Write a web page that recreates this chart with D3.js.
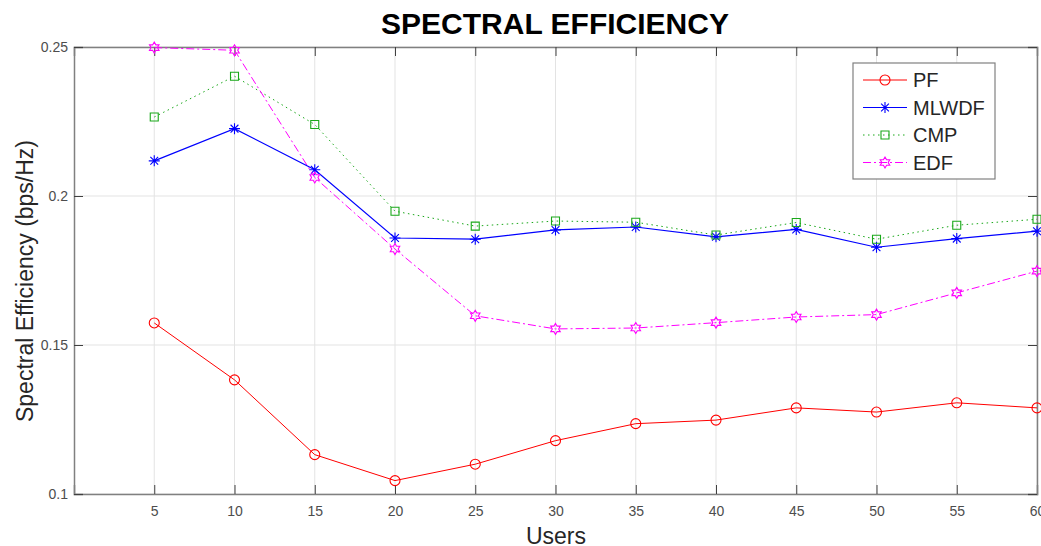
<!DOCTYPE html>
<meta charset="utf-8">
<script src="https://d3js.org/d3.v7.min.js"></script>
<style>
  body { margin: 0; background: #fff; }
  text { font-family: "Liberation Sans", Arial, sans-serif; }
</style>
<div id="chart"></div>
<script>
// data
var users = [5, 10, 15, 20, 25, 30, 35, 40, 45, 50, 55, 60];
var pf    = [0.1574, 0.1383, 0.1132, 0.1045, 0.1100, 0.1179, 0.1236, 0.1248, 0.1289, 0.1275, 0.1306, 0.1289];
var mlwdf = [0.2118, 0.2226, 0.2088, 0.1859, 0.1855, 0.1886, 0.1896, 0.1863, 0.1888, 0.1828, 0.1857, 0.1882];
var cmp   = [0.2265, 0.2402, 0.2240, 0.1949, 0.1899, 0.1916, 0.1912, 0.1869, 0.1911, 0.1855, 0.1902, 0.1922];
var edf   = [0.2498, 0.2489, 0.2062, 0.1822, 0.1598, 0.1554, 0.1557, 0.1575, 0.1594, 0.1602, 0.1675, 0.1748];
var xTicks = [5, 10, 15, 20, 25, 30, 35, 40, 45, 50, 55, 60];
var yTicks = [0.1, 0.15, 0.2, 0.25];

var series = [
  {name: "PF",    values: pf,    color: "#ff0000", dash: null,       marker: "circle",   lw: 1},
  {name: "MLWDF", values: mlwdf, color: "#0000ff", dash: null,       marker: "asterisk", lw: 1.2},
  {name: "CMP",   values: cmp,   color: "#1aa81a", dash: "1.5,3.5",  marker: "square",   lw: 1},
  {name: "EDF",   values: edf,   color: "#ff00ff", dash: "8,3,2,3",  marker: "hexagram", lw: 1}
];

var width = 1041, height = 546;
var plot = {left: 74, right: 1037, top: 47, bottom: 494};

var svg = d3.select("#chart").append("svg")
  .attr("width", width)
  .attr("height", height);

var x = d3.scaleLinear().domain([0, 60]).range([plot.left, plot.right]);
var y = d3.scaleLinear().domain([0.1, 0.25]).range([plot.bottom, plot.top]);

// grid
svg.append("g").selectAll("line").data(xTicks).enter().append("line")
  .attr("x1", function(d){ return x(d) }).attr("x2", function(d){ return x(d) })
  .attr("y1", plot.top).attr("y2", plot.bottom)
  .attr("stroke", "#e3e3e3").attr("stroke-width", 1);
svg.append("g").selectAll("line").data(yTicks).enter().append("line")
  .attr("y1", function(d){ return y(d) }).attr("y2", function(d){ return y(d) })
  .attr("x1", plot.left).attr("x2", plot.right)
  .attr("stroke", "#e3e3e3").attr("stroke-width", 1);

// axes
var xAxis = svg.append("g")
  .attr("transform", "translate(0," + plot.bottom + ")")
  .call(d3.axisBottom(x).tickValues(xTicks).tickSize(-9).tickPadding(12).tickFormat(d3.format("d")));
var xTop = svg.append("g")
  .attr("transform", "translate(0," + plot.top + ")")
  .call(d3.axisTop(x).tickValues(xTicks).tickSize(-9).tickFormat(""));
var yAxis = svg.append("g")
  .attr("transform", "translate(" + plot.left + ",0)")
  .call(d3.axisLeft(y).tickValues(yTicks).tickSize(-9).tickPadding(6).tickFormat(function(d){ return String(+d.toFixed(2)) }));
var yRight = svg.append("g")
  .attr("transform", "translate(" + plot.right + ",0)")
  .call(d3.axisRight(y).tickValues(yTicks).tickSize(-9).tickFormat(""));

[xAxis, xTop, yAxis, yRight].forEach(function(a){
  a.select(".domain").attr("stroke", "#808080").attr("stroke-width", 1.5);
  a.selectAll(".tick line").attr("stroke", "#404040");
  a.selectAll(".tick text").attr("fill", "#4d4d4d").style("font-size", "14px")
    .style("font-family", "Liberation Sans, Arial, sans-serif");
});

// marker shapes
function markerPath(type) {
  if (type == "circle") return d3.symbol().type(d3.symbolCircle).size(Math.PI * 25)();
  if (type == "square") return d3.symbol().type(d3.symbolSquare).size(64)();
  if (type == "asterisk") {
    var r = 5.5, p = "";
    for (var i = 0; i < 4; i++) {
      var a = i * Math.PI / 4;
      p += "M" + (-r * Math.cos(a)) + "," + (-r * Math.sin(a)) + "L" + (r * Math.cos(a)) + "," + (r * Math.sin(a));
    }
    return p;
  }
  // hexagram
  var R = 5.5, rin = R / Math.sqrt(3), pts = [];
  for (var k = 0; k < 12; k++) {
    var ang = -Math.PI / 2 + k * Math.PI / 6;
    var rr = k % 2 == 0 ? R : rin;
    pts.push([rr * Math.cos(ang), rr * Math.sin(ang)]);
  }
  return "M" + pts.join("L") + "Z";
}

var line = d3.line()
  .x(function(d){ return x(d[0]) })
  .y(function(d){ return y(d[1]) });

series.forEach(function(s) {
  var pts = users.map(function(u, i){ return [u, s.values[i]] });
  svg.append("path")
    .datum(pts)
    .attr("d", line)
    .attr("fill", "none")
    .attr("stroke", s.color)
    .attr("stroke-width", s.lw)
    .attr("stroke-dasharray", s.dash);
  svg.append("g").selectAll("path").data(pts).enter().append("path")
    .attr("transform", function(d){ return "translate(" + x(d[0]) + "," + y(d[1]) + ")" })
    .attr("d", markerPath(s.marker))
    .attr("fill", "none")
    .attr("stroke", s.color)
    .attr("stroke-width", 1.1);
});

// title and labels
svg.append("text")
  .attr("x", 555).attr("y", 34)
  .attr("text-anchor", "middle")
  .style("font-size", "30px").style("font-weight", "bold")
  .text("SPECTRAL EFFICIENCY");

svg.append("text")
  .attr("x", 556).attr("y", 544)
  .attr("text-anchor", "middle")
  .attr("fill", "#262626")
  .style("font-size", "23px")
  .text("Users");

svg.append("text")
  .attr("transform", "translate(33,281)rotate(-90)")
  .attr("text-anchor", "middle")
  .attr("fill", "#262626")
  .style("font-size", "23px")
  .text("Spectral Efficiency (bps/Hz)");

// legend
var legend = svg.append("g").attr("transform", "translate(853,63)");
legend.append("rect")
  .attr("width", 142).attr("height", 116)
  .attr("fill", "#fff").attr("stroke", "#808080").attr("stroke-width", 1.2);
series.forEach(function(s, i) {
  var ly = 17 + i * 27.5;
  legend.append("line")
    .attr("x1", 10).attr("x2", 54).attr("y1", ly).attr("y2", ly)
    .attr("stroke", s.color).attr("stroke-width", s.lw)
    .attr("stroke-dasharray", s.dash);
  legend.append("path")
    .attr("transform", "translate(32," + ly + ")")
    .attr("d", markerPath(s.marker))
    .attr("fill", "none").attr("stroke", s.color).attr("stroke-width", 1.1);
  legend.append("text")
    .attr("x", 60).attr("y", ly + 7)
    .attr("fill", "#262626")
    .style("font-size", "20px")
    .text(s.name);
});
</script>
